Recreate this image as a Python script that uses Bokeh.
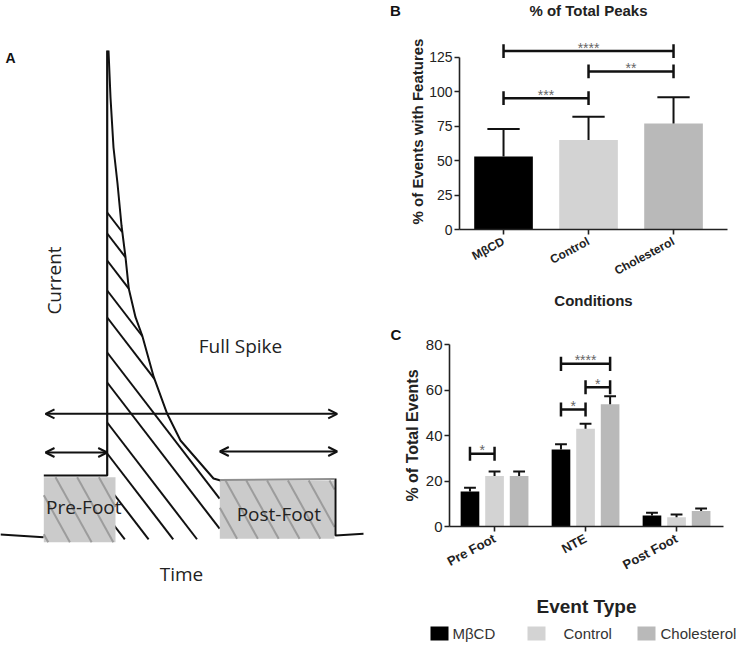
import math
import numpy as np
from bokeh.plotting import figure
from bokeh.layouts import row, column
from bokeh.models import (Range1d, FixedTicker, Arrow, OpenHead, ColumnDataSource)
from bokeh.core.properties import value
from bokeh.embed import file_html
from bokeh.resources import INLINE

# ---------------- Panel B data ----------------
conditions = ["M\u03b2CD", "Control", "Cholesterol"]
peaks_mean = [53, 65, 77]
peaks_err_top = [73, 82, 96]
bar_colors = ["#000000", "#d3d3d3", "#b9b9b9"]
b_left = [0, 1, 0]
b_right = [1, 2, 2]
b_heights = [95.4, 114.8, 129.6]
b_labels = ["***", "**", "****"]
b_yticks = [0, 25, 50, 75, 100, 125]

# ---------------- Panel C data ----------------
event_types = ["Pre Foot", "NTE", "Post Foot"]
mbcd_vals = [15.4, 33.8, 4.8]
mbcd_err = [17.0, 36.1, 6.0]
control_vals = [22.2, 43.0, 4.1]
control_err = [24.2, 45.2, 5.3]
chol_vals = [22.2, 53.7, 6.8]
chol_err = [24.2, 57.3, 7.9]
c_group = [0, 1, 1, 1]
c_left = [0, 0, 1, 0]
c_right = [1, 1, 2, 2]
c_heights = [32.0, 51.4, 61.2, 71.5]
c_labels = ["*", "*", "*", "****"]
c_yticks = [0, 20, 40, 60, 80]

# ---------------- Panel A schematic (time, current in drawing units; current axis points down) ----
spike_t = 106.7
spike_top = 50
foot_level = 475
prefoot_start = 43.3
decay_t = [108, 110, 113, 117, 121, 125, 128.3, 135, 141.7, 153.3, 166.7, 180, 200, 213, 220]
decay_i = [50, 97, 147, 183, 225, 256.7, 288.3, 316.7, 335, 376.7, 413.3, 440, 463, 478, 480]
hatch_starts = [212, 233, 260, 290, 317, 352, 382, 422, 453, 485, 516]
hatch_slope = 1.3
hatch_bottom = 539
pre_box = [43.3, 115, 476.7, 541.7]
post_box = [219.3, 334, 480, 538.3]
post_top_line_t = [219.3, 334]
post_top_line_i = [479.5, 478.5]
base_left_t = [0, 43]
base_left_i = [534, 536.7]
post_edge_t = [335, 335, 363]
post_edge_i = [478, 535, 533.3]
arrow_full = [45, 336.7, 413.3]
arrow_pre = [45, 106.7, 452]
arrow_post = [219.3, 336.7, 451]

FONT_A = "Open Sans"
FONT = "Liberation Sans"


def blank(width, height, xr, yr):
    p = figure(width=width, height=height, x_range=Range1d(*xr), y_range=Range1d(*yr),
               output_backend="svg", toolbar_location=None, min_border=0,
               x_axis_location=None, y_axis_location=None, frame_align=False)
    p.grid.visible = False
    p.outline_line_color = None
    return p


# ================= Panel A =================
pA = blank(380, 646, (0, 380), (646, 0))

# hatch lines in spike area
hx0, hy0, hx1, hy1 = [], [], [], []
for y0 in hatch_starts:
    xs = np.arange(spike_t, post_box[0], 0.2)
    ly = y0 + hatch_slope * (xs - spike_t)
    cy = np.interp(xs, decay_t, decay_i)
    ok = (ly >= cy) & (ly <= hatch_bottom)
    idx = len(xs) if ok.all() else int(np.argmin(ok))
    idx = max(idx, 1)
    hx0.append(spike_t); hy0.append(y0)
    hx1.append(float(xs[idx - 1])); hy1.append(float(ly[idx - 1]))
pA.segment(hx0, hy0, hx1, hy1, line_color="#111111", line_width=2)

# boxes
for bx in (pre_box, post_box):
    pA.quad(left=[bx[0]], right=[bx[1]], top=[bx[2]], bottom=[bx[3]],
            fill_color="#cbcbcb", line_color=None)


def box_hatch(bx, first, spacing, slope):
    x0, x1, y0, y1 = bx
    segs = ([], [], [], [])
    c = first
    while c - spacing > x0 - (y1 - y0) / slope:
        c -= spacing
    while c < x1:
        xa, ya = c, y0
        xb, yb = c + (y1 - y0) / slope, y1
        if xa < x0:
            ya = y0 + slope * (x0 - c); xa = x0
        if xb > x1:
            yb = y0 + slope * (x1 - c); xb = x1
        if xa < xb:
            for lst, v in zip(segs, (xa, ya, xb, yb)):
                lst.append(v)
        c += spacing
    return segs


for bx, first, sp in ((pre_box, 55, 21.7), (post_box, 225, 20.8)):
    s = box_hatch(bx, first, sp, 1.8)
    pA.segment(*s, line_color="#9c9c9c", line_width=2)

# outline of the trace
pA.line([prefoot_start, spike_t, spike_t], [foot_level, foot_level, spike_top],
        line_color="#111111", line_width=2.2)
pA.line(decay_t, decay_i, line_color="#111111", line_width=2)
pA.line(post_top_line_t, post_top_line_i, line_color="#8f8f8f", line_width=2)
pA.line(base_left_t, base_left_i, line_color="#111111", line_width=2)
pA.line(post_edge_t, post_edge_i, line_color="#111111", line_width=2)

for a in (arrow_full, arrow_pre, arrow_post):
    pA.add_layout(Arrow(x_start=a[0], x_end=a[1], y_start=a[2], y_end=a[2],
                        start=OpenHead(size=9, line_width=2, line_color="#111111"),
                        end=OpenHead(size=9, line_width=2, line_color="#111111"),
                        line_width=2, line_color="#111111"))

a_txt = ColumnDataSource(dict(x=[240, 83.3, 278.3, 181], y=[345, 506.7, 513.3, 573],
                              t=["Full Spike", "Pre-Foot", "Post-Foot", "Time"]))
pA.text(x="x", y="y", text="t", source=a_txt, text_font=value(FONT_A),
        text_font_size=value("19px"), text_align="center", text_baseline="middle",
        text_color="#222222")
pA.text(x=[53], y=[280], text=["Current"], angle=math.pi / 2, text_font=value(FONT_A),
        text_font_size=value("19px"), text_align="center", text_baseline="middle",
        text_color="#222222")
pA.text(x=[5], y=[57], text=["A"], text_font=value(FONT), text_font_style="bold",
        text_font_size=value("14px"), text_align="left", text_baseline="middle",
        text_color="#111111")


def style_axes(p, ytick_size, xtick_size, xlab_size, ylab_size):
    p.grid.visible = False
    p.outline_line_color = None
    for ax in (p.xaxis[0], p.yaxis[0]):
        ax.axis_line_color = "#222222"
        ax.axis_line_width = 1.6
        ax.major_tick_line_color = "#222222"
        ax.major_tick_line_width = 1.6
        ax.major_tick_in = 0
        ax.major_tick_out = 5
        ax.minor_tick_line_color = None
        ax.major_label_text_font = FONT
        ax.major_label_text_color = "#222222"
        ax.axis_label_text_font = FONT
        ax.axis_label_text_font_style = "bold"
        ax.axis_label_text_color = "#222222"
    p.yaxis.major_label_text_font_size = ytick_size
    p.yaxis.major_label_standoff = 2
    p.xaxis.major_label_text_font_size = xtick_size
    p.xaxis.major_label_text_font_style = "bold"
    p.xaxis.major_label_orientation = 0.49
    p.xaxis.major_label_standoff = 6
    p.xaxis.axis_label_text_font_size = xlab_size
    p.yaxis.axis_label_text_font_size = ylab_size


# ================= Panel B =================
pBt = blank(364, 22, (380, 744), (22, 0))
pBt.text(x=[395], y=[10], text=["B"], text_font=value(FONT), text_font_style="bold",
         text_font_size=value("15px"), text_align="center", text_baseline="middle",
         text_color="#111111")
pBt.text(x=[588], y=[10], text=["% of Total Peaks"], text_font=value(FONT),
         text_font_style="bold", text_font_size=value("15px"), text_align="center",
         text_baseline="middle", text_color="#222222")

xb = list(range(len(conditions)))
b_ppu = 196 / 142.4  # pixels per unit, used only to lift the star labels off their brackets
pB = figure(width=364, height=296, x_range=Range1d(-0.518, 2.635), y_range=Range1d(0, 142.4),
            output_backend="svg", toolbar_location=None, min_border_left=79,
            min_border_right=17, min_border_top=11, min_border_bottom=89, frame_align=False)
style_axes(pB, "14px", "12px", "15px", "15px")
pB.yaxis.ticker = FixedTicker(ticks=b_yticks)
pB.yaxis.bounds = (b_yticks[0], b_yticks[-1])
pB.xaxis.ticker = FixedTicker(ticks=xb)
pB.xaxis.major_label_overrides = {i: c for i, c in zip(xb, conditions)}
pB.xaxis.axis_label = "Conditions"
pB.yaxis.axis_label = "% of Events with Features"
pB.xaxis.axis_label_standoff = 5
pB.yaxis.axis_label_standoff = 0

pB.vbar(x=xb, top=peaks_mean, width=0.69, fill_color=bar_colors, line_color=None)
pB.segment(xb, peaks_mean, xb, peaks_err_top, line_color="#111111", line_width=2)
pB.segment([x - 0.19 for x in xb], peaks_err_top, [x + 0.19 for x in xb], peaks_err_top,
           line_color="#111111", line_width=2)
# brackets
pB.segment(b_left, b_heights, b_right, b_heights, line_color="#111111", line_width=2.5)
pB.segment(b_left + b_right, [h - 5 for h in b_heights] * 2, b_left + b_right,
           [h + 5 for h in b_heights] * 2, line_color="#111111", line_width=2.5)
pB.text(x=[(l + r) / 2 for l, r in zip(b_left, b_right)],
        y=[h + 3.5 / b_ppu for h in b_heights], text=b_labels,
        text_font=value(FONT), text_font_size=value("14px"),
        text_align="center", text_baseline="alphabetic", text_color="#666666")

# ================= Panel C =================
xg = list(range(len(event_types)))
offsets = [-0.27, 0.0, 0.27]
series = [(mbcd_vals, mbcd_err), (control_vals, control_err), (chol_vals, chol_err)]
c_ppu = 182 / 80
pC = figure(width=364, height=302, x_range=Range1d(-0.495, 2.516), y_range=Range1d(0, 80),
            output_backend="svg", toolbar_location=None, min_border_left=69,
            min_border_right=21, min_border_top=26, min_border_bottom=94, frame_align=False,
            title="C")
pC.title.align = "left"
pC.title.offset = -59
pC.title.standoff = 3
pC.title.text_font = FONT
pC.title.text_font_style = "bold"
pC.title.text_font_size = "15px"
pC.title.text_color = "#111111"
style_axes(pC, "15px", "13px", "19px", "16px")
pC.yaxis.ticker = FixedTicker(ticks=c_yticks)
pC.xaxis.ticker = FixedTicker(ticks=xg)
pC.xaxis.major_label_overrides = {i: e for i, e in zip(xg, event_types)}
pC.xaxis.axis_label = "Event Type"
pC.yaxis.axis_label = "% of Total Events"
pC.xaxis.axis_label_standoff = 14
pC.yaxis.axis_label_standoff = 2

for k, ((vals, errs), col) in enumerate(zip(series, bar_colors)):
    xs = [g + offsets[k] for g in xg]
    pC.vbar(x=xs, top=vals, width=0.205, fill_color=col, line_color=None)
    pC.segment(xs, vals, xs, errs, line_color="#111111", line_width=2)
    pC.segment([x - 0.065 for x in xs], errs, [x + 0.065 for x in xs], errs,
               line_color="#111111", line_width=2)

cl = [g + offsets[i] for g, i in zip(c_group, c_left)]
cr = [g + offsets[i] for g, i in zip(c_group, c_right)]
pC.segment(cl, c_heights, cr, c_heights, line_color="#111111", line_width=2.5)
pC.segment(cl + cr, [h - 3.1 for h in c_heights] * 2, cl + cr, [h + 3.1 for h in c_heights] * 2,
           line_color="#111111", line_width=2.5)
pC.text(x=[(a + b) / 2 for a, b in zip(cl, cr)], y=[h + 3.5 / c_ppu for h in c_heights],
        text=c_labels, text_font=value(FONT), text_font_size=value("14px"),
        text_align="center", text_baseline="alphabetic", text_color="#666666")

# ================= Legend strip (keys for panel C) =================
key_x = [430, 527, 637]
key_w = 18
key_text_x = [452, 563, 660]
pL = blank(364, 26, (380, 744), (646, 620))
pL.quad(left=key_x, right=[x + key_w for x in key_x], top=[626] * 3, bottom=[640] * 3,
        fill_color=bar_colors, line_color=None)
pL.text(x=key_text_x, y=[633] * 3, text=conditions, text_font=value(FONT),
        text_font_size=value("15px"), text_align="left", text_baseline="middle",
        text_color="#333333")

layout = row(pA, column(pBt, pB, pC, pL))
open("out.html", "w").write(file_html(layout, INLINE))
